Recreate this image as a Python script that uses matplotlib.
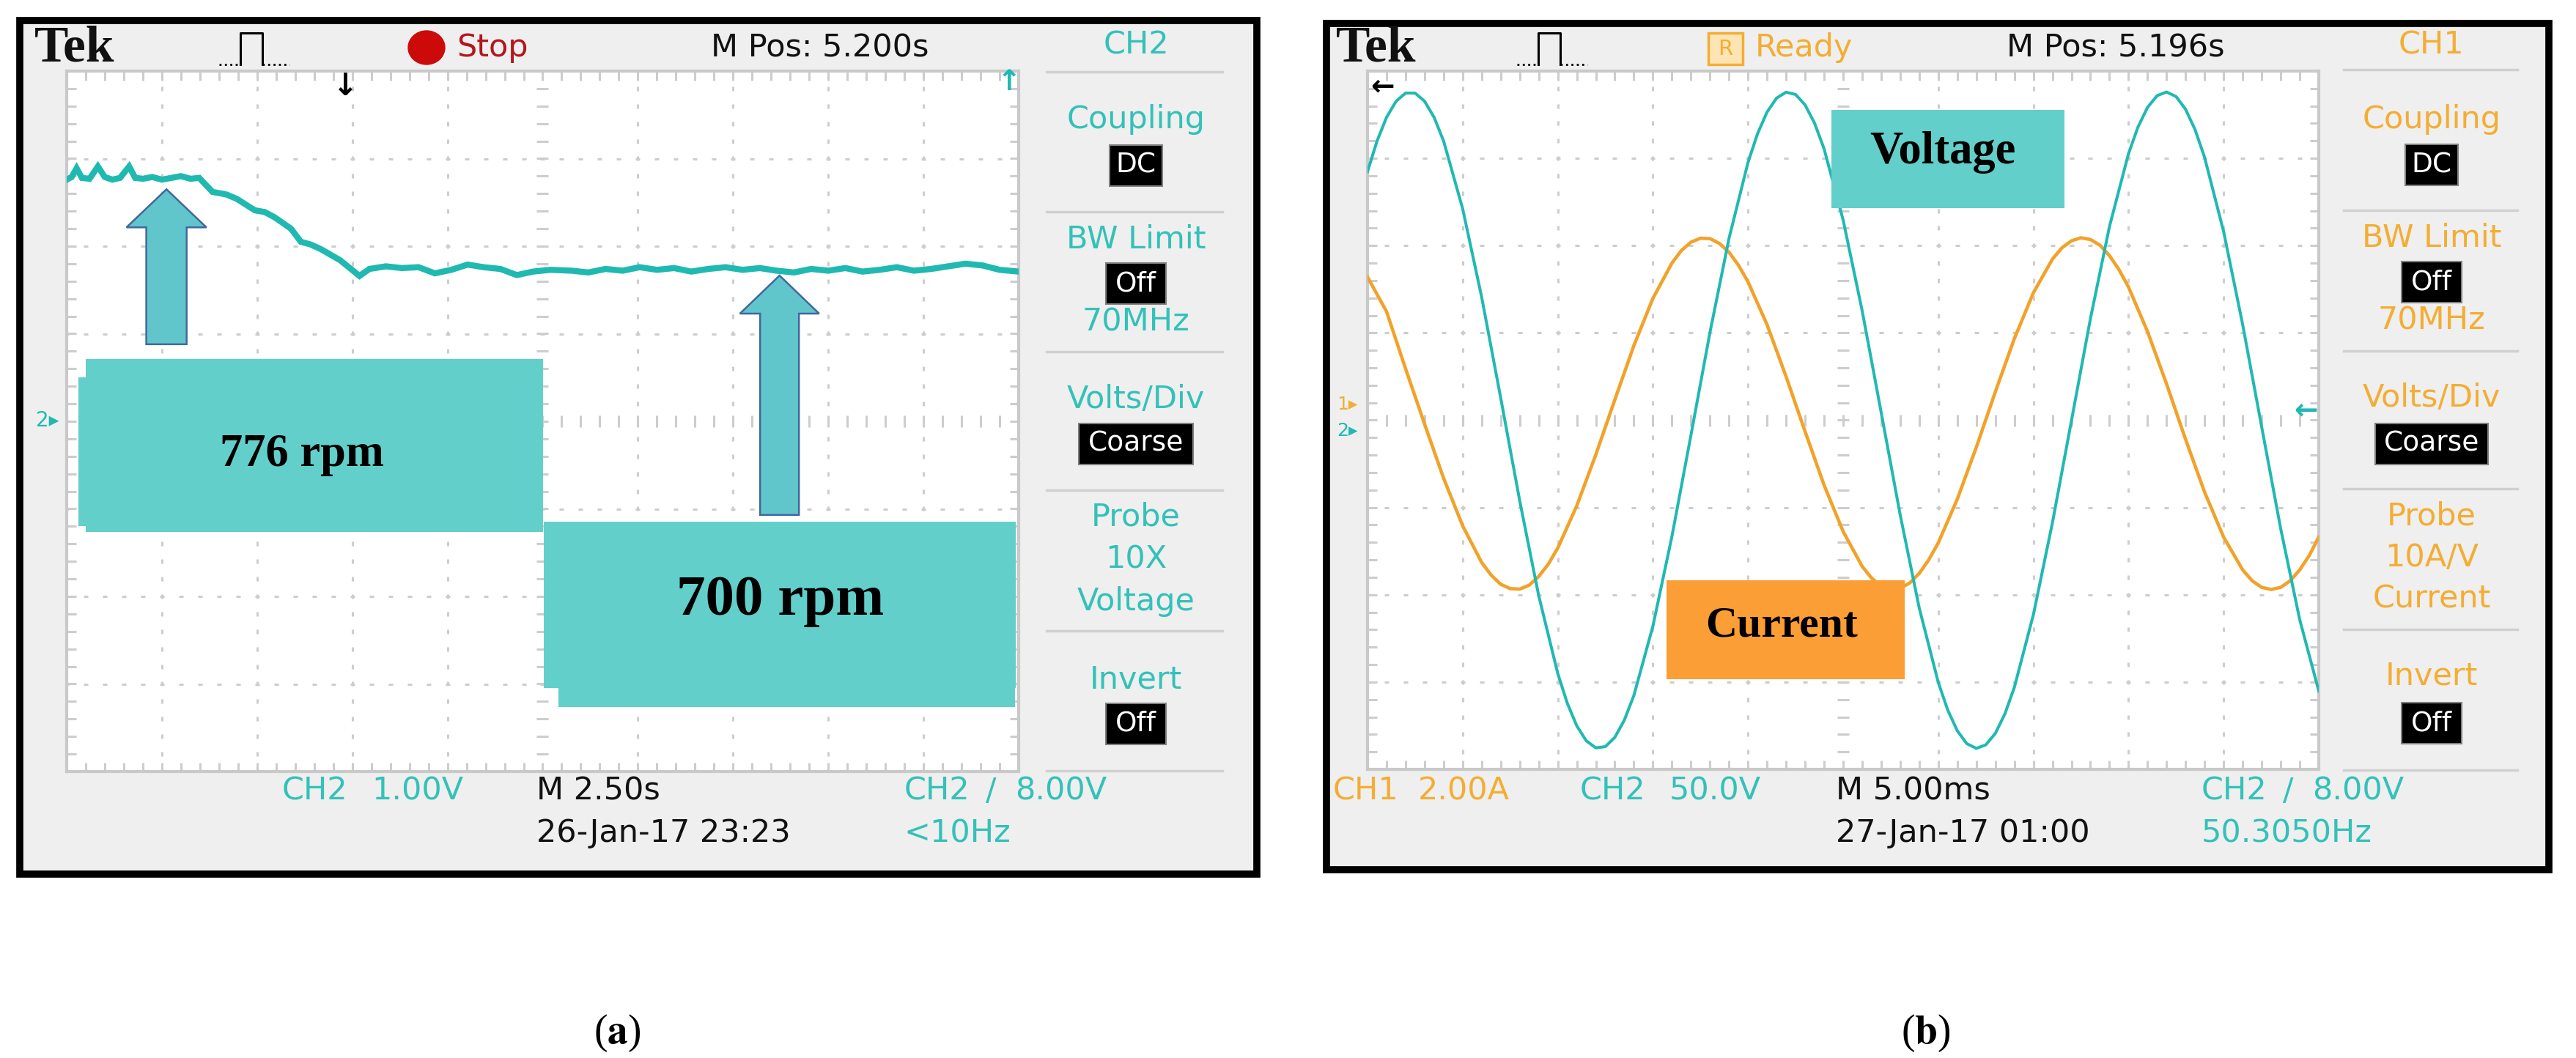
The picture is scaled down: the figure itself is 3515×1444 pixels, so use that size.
import numpy as np
import matplotlib.pyplot as plt
from matplotlib import font_manager
from matplotlib.patches import Rectangle, Ellipse, FancyArrow
from matplotlib.lines import Line2D

plt.rcParams['mathtext.fontset'] = 'stix'

# ---- data read from the two scope screens ----
# (a) speed signal, CH2 1.00 V/div, 2.50 s/div
speed_t = [0.0, 0.13, 0.26, 0.4, 0.6, 0.82, 1.0, 1.2, 1.4, 1.64, 1.8, 2.0, 2.25, 2.5, 2.75,
           3.0, 3.25, 3.48,
           3.83, 4.2, 4.47, 4.94, 5.2, 5.46, 5.89, 6.15, 6.4, 6.66, 7.18, 7.52, 7.69, 7.95,
           8.38, 8.8, 9.24, 9.67, 10.1, 10.53, 10.95, 11.39, 11.82, 12.25, 12.7, 13.26,
           13.7, 14.15, 14.6, 15.05, 15.5, 15.95, 16.4, 16.85, 17.3, 17.75, 18.2, 18.65,
           19.1, 19.55, 20.0, 20.45, 20.9, 21.35, 21.8, 22.25, 22.7, 23.15, 23.6, 24.05,
           24.5, 25.0]
speed_v = [2.76, 2.79, 2.89, 2.78, 2.77, 2.91, 2.79, 2.76, 2.78, 2.91, 2.78, 2.77, 2.79, 2.76, 2.78,
           2.80, 2.77, 2.78,
           2.62, 2.59, 2.54, 2.41, 2.39, 2.33, 2.20, 2.05, 2.02, 1.97, 1.84, 1.72, 1.66, 1.74,
           1.77, 1.75, 1.76, 1.69, 1.73, 1.79, 1.76, 1.74, 1.67, 1.71, 1.73, 1.72,
           1.70, 1.74, 1.72, 1.76, 1.73, 1.75, 1.71, 1.74, 1.76, 1.73, 1.75, 1.72,
           1.70, 1.74, 1.72, 1.75, 1.71, 1.73, 1.76, 1.72, 1.74, 1.77, 1.80, 1.78,
           1.73, 1.71]

# (b) voltage (CH2, 50 V/div) and current (CH1, 2 A/div), 5 ms/div
voltage_t = [0, 0.5, 1, 1.5, 2, 2.5, 3, 3.5, 4, 5, 6, 7, 8, 9,
             10, 10.5, 11, 11.5, 12, 12.5, 13, 13.5, 14, 15, 16, 17, 18, 19,
             20, 20.5, 21, 21.5, 22, 22.5, 23, 23.5, 24, 25, 26, 27, 28, 29,
             30, 30.5, 31, 31.5, 32, 32.5, 33, 33.5, 34, 35, 36, 37, 38, 39,
             40, 40.5, 41, 41.5, 42, 42.5, 43, 43.5, 44, 45, 46, 47, 48, 49, 50]
voltage = [142.4, 159.9, 173.5, 182.7, 187.4, 187.4, 182.7, 173.5, 159.9,
           121.2, 70.5, 12.8, -46.2, -100.6, -145.1,
           -162.1, -175.1, -183.7, -187.7, -187.0, -181.7, -171.8, -157.7,
           -118.0, -66.6, -8.6, 50.3, 104.1, 147.7,
           164.1, 176.5, 184.5, 187.9, 186.6, 180.6, 170.1, 155.4,
           114.7, 62.7, 4.4, -54.3, -107.6, -150.2,
           -166.1, -177.9, -185.3, -188.0, -186.0, -179.4, -168.3, -153.0,
           -111.4, -58.8, -0.3, 58.3, 111.0, 152.7,
           168.0, 179.2, 185.9, 188.0, 185.4, 178.1, 166.4, 150.5,
           108.0, 54.8, -3.9, -62.2, -114.3, -155.1]
current_t = [0, 1, 2, 3, 4, 5, 6, 6.5, 7, 7.5, 8, 8.5, 9, 9.5,
             10, 11, 12, 13, 14, 15, 16, 16.5, 17, 17.5, 18, 18.5, 19, 19.5,
             20, 21, 22, 23, 24, 25, 26, 26.5, 27, 27.5, 28, 28.5, 29, 29.5,
             30, 31, 32, 33, 34, 35, 36, 36.5, 37, 37.5, 38, 38.5, 39, 39.5,
             40, 41, 42, 43, 44, 45, 46, 46.5, 47, 47.5, 48, 48.5, 49, 49.5, 50]
current = [3.28, 2.49, 1.18, -0.09, -1.33, -2.42, -3.26,
           -3.55, -3.76, -3.86, -3.87, -3.78, -3.58, -3.30,
           -2.93, -1.96, -0.79, 0.47, 1.71, 2.79, 3.60,
           3.89, 4.08, 4.17, 4.16, 4.05, 3.85, 3.55,
           3.17, 2.19, 1.00, -0.26, -1.49, -2.55, -3.35,
           -3.62, -3.80, -3.88, -3.85, -3.73, -3.51, -3.20,
           -2.81, -1.81, -0.62, 0.65, 1.87, 2.92, 3.69,
           3.95, 4.11, 4.18, 4.14, 4.01, 3.77, 3.45,
           3.05, 2.03, 0.83, -0.44, -1.65, -2.68, -3.43,
           -3.68, -3.83, -3.88, -3.83, -3.68, -3.43, -3.10, -2.68]

# ---- styling ----
TEAL = '#20b9b2'
TEAL_TXT = '#33c1b9'
ORANGE = '#f2a22a'
ORANGE_TXT = '#f4ad33'
BOX_TEAL = '#63cfca'
BOX_ORANGE = '#fb9e35'
ARROW_FC = '#60c6cc'
ARROW_EC = '#41689c'
SCREEN = '#efefef'
GRIDC = '#cdcdcd'

names = {f.name for f in font_manager.fontManager.ttflist}
if 'Liberation Sans Narrow' in names:
    SANS = ['Liberation Sans Narrow', 'DejaVu Sans']
    FS = 40
else:
    SANS = ['DejaVu Sans']
    FS = 31
SERIF = ['Liberation Serif', 'DejaVu Serif']

W, H = 3516, 1444
fig = plt.figure(figsize=(W / 100, H / 100), dpi=100)


def X(px):
    return px / W


def Y(py):
    return 1 - py / H


def box(x0, y0, x1, y1, **kw):
    fig.add_artist(Rectangle((X(x0), Y(y1)), (x1 - x0) / W, (y1 - y0) / H,
                             transform=fig.transFigure, **kw))


def txt(x, y, s, **kw):
    kw.setdefault('ha', 'center')
    kw.setdefault('va', 'center')
    kw.setdefault('family', SANS)
    kw.setdefault('fontsize', FS)
    fig.text(X(x), Y(y), s, **kw)


def line(xs, ys, **kw):
    fig.add_artist(Line2D([X(v) for v in xs], [Y(v) for v in ys],
                          transform=fig.transFigure, **kw))


def draw_grid(x0, y0, x1, y1, name):
    g = fig.add_axes([X(x0), Y(y1), (x1 - x0) / W, (y1 - y0) / H], label=name)
    g.set_xlim(0, 10)
    g.set_ylim(-4, 4)
    g.set_xticks([])
    g.set_yticks([])
    g.set_facecolor('white')
    for s in g.spines.values():
        s.set_color('#c9c9c9')
        s.set_linewidth(3)
    xs = np.arange(0, 10.001, 0.2)
    ys = np.arange(-4, 4.001, 0.2)
    for k in range(1, 10):
        if k != 5:
            g.plot(np.full(ys.size, k), ys, ls='none', marker='|', ms=5, mew=2.2, color=GRIDC)
    for j in range(-3, 4):
        if j != 0:
            g.plot(xs, np.full(xs.size, j), ls='none', marker='_', ms=5, mew=2.2, color=GRIDC)
    g.plot(xs, np.zeros(xs.size), ls='none', marker='|', ms=11, mew=2.2, color=GRIDC)
    g.plot(np.full(ys.size, 5), ys, ls='none', marker='_', ms=11, mew=2.2, color=GRIDC)
    for yy in (4, -4):
        g.plot(xs, np.full(xs.size, yy), ls='none', marker='|', ms=18, mew=2.2, color=GRIDC)
    for xx in (0, 10):
        g.plot(np.full(ys.size, xx), ys, ls='none', marker='_', ms=18, mew=2.2, color=GRIDC)
    return [X(x0), Y(y1), (x1 - x0) / W, (y1 - y0) / H]


def menu(cx, col, x0, x1, items, seps):
    for y in seps:
        line([x0, x1], [y, y], color='#d0d0d0', lw=2.5)
    for it in items:
        if it[0] == 't':
            txt(cx, it[1], it[2], color=col)
        else:
            w = it[3]
            box(cx - w / 2, it[1] - 28, cx + w / 2, it[1] + 28, facecolor='black',
                edgecolor='#808080', lw=1.5)
            txt(cx, it[1], it[2], color='white', fontsize=FS - 4)


def pulse_icon(x0):
    line([x0, x0 + 29], [88, 88], color='black', lw=2, ls=':')
    line([x0 + 29, x0 + 29, x0 + 59, x0 + 59], [88, 45, 45, 88], color='black', lw=2.2)
    line([x0 + 59, x0 + 96], [88, 88], color='black', lw=2, ls=':')


# ---- screen frames (behind the scope axes) ----
box(27.5, 27.5, 1715, 1192.5, facecolor=SCREEN, edgecolor='black', lw=7, zorder=-2)
box(1810, 32, 3478, 1187, facecolor=SCREEN, edgecolor='black', lw=7, zorder=-2)

# ================= panel (a) =================
rect_a = draw_grid(91, 97, 1390, 1053, 'grid_a')
ax_a = fig.add_axes(rect_a, label='data_a')
ax_a.set_xlim(0, 25)
ax_a.set_ylim(-4, 4)
ax_a.axis('off')
ax_a.plot(speed_t, speed_v, color=TEAL, lw=6, solid_joinstyle='miter')
ax_a.add_patch(FancyArrow(2.62, 0.88, 0, 1.77, width=1.06, head_width=2.10, head_length=0.435,
                          length_includes_head=True, fc=ARROW_FC, ec=ARROW_EC, lw=1.8))
ax_a.add_patch(FancyArrow(18.72, -1.07, 0, 2.735, width=1.02, head_width=2.08, head_length=0.435,
                          length_includes_head=True, fc=ARROW_FC, ec=ARROW_EC, lw=1.8))

txt(102, 67, 'Tek', family=SERIF, fontsize=50, fontweight='bold', color='#111111')
pulse_icon(299)
fig.add_artist(Ellipse((X(582), Y(65)), 50 / W, 46 / H, transform=fig.transFigure,
                       color='#cc0a0a'))
txt(623, 65, 'Stop', ha='left', color='#b3161d')
txt(1119, 65, 'M Pos: 5.200s', color='#111111')
txt(471, 118, '\u2193', family=['DejaVu Sans'], fontsize=30, fontweight='bold', color='black')
txt(1377, 112, '\u2191', family=['DejaVu Sans'], fontsize=28, fontweight='bold', color=TEAL)
txt(65, 574, '2\u25b8', family=['DejaVu Sans'], fontsize=20, color=TEAL)

menu(1550, TEAL_TXT, 1428, 1668,
     [('t', 61, 'CH2'), ('t', 163, 'Coupling'), ('b', 226, 'DC', 72),
      ('t', 327, 'BW Limit'), ('b', 387, 'Off', 82), ('t', 440, '70MHz'),
      ('t', 545, 'Volts/Div'), ('b', 606, 'Coarse', 156),
      ('t', 706, 'Probe'), ('t', 763, '10X'), ('t', 821, 'Voltage'),
      ('t', 927, 'Invert'), ('b', 988, 'Off', 82)],
     [97.5, 289, 480, 669, 861, 1052])

txt(385, 1080, 'CH2', ha='left', color=TEAL_TXT)
txt(507, 1080, '1.00V', ha='left', color=TEAL_TXT)
txt(732, 1080, 'M 2.50s', ha='left', color='#111111')
txt(732, 1137, '26-Jan-17 23:23', ha='left', color='#111111')
txt(1234, 1080, 'CH2', ha='left', color=TEAL_TXT)
txt(1352, 1080, '/', color=TEAL_TXT)
txt(1385, 1080, '8.00V', ha='left', color=TEAL_TXT)
txt(1234, 1137, '<10Hz', ha='left', color=TEAL_TXT)

box(117, 490, 741, 726, facecolor=BOX_TEAL, lw=0)
box(107, 515, 741, 718, facecolor=BOX_TEAL, lw=0)
txt(412, 621, '776 rpm', family=SERIF, fontsize=45, fontweight='bold', color='black')
box(742, 712, 1386, 939, facecolor=BOX_TEAL, lw=0)
box(762, 725, 1385, 965, facecolor=BOX_TEAL, lw=0)
txt(1065, 820, '700 rpm', family=SERIF, fontsize=57, fontweight='bold', color='black')

# ================= panel (b) =================
rect_b = draw_grid(1866, 97, 3164, 1050, 'grid_b')
ax_i = fig.add_axes(rect_b, label='data_i')
ax_i.set_xlim(0, 50)
ax_i.set_ylim(-8, 8)
ax_i.axis('off')
ax_i.plot(current_t, current, color=ORANGE, lw=3.3)
ax_v = fig.add_axes(rect_b, label='data_v')
ax_v.set_xlim(0, 50)
ax_v.set_ylim(-200, 200)
ax_v.axis('off')
ax_v.plot(voltage_t, voltage, color=TEAL, lw=2.9)

txt(1878, 67, 'Tek', family=SERIF, fontsize=50, fontweight='bold', color='#111111')
pulse_icon(2070)
box(2331, 45, 2378, 88, facecolor='#fde4b4', edgecolor=ORANGE_TXT, lw=2.5)
txt(2354.5, 67, 'R', color=ORANGE_TXT, fontsize=FS - 10)
txt(2395, 65, 'Ready', ha='left', color=ORANGE_TXT)
txt(2887, 65, 'M Pos: 5.196s', color='#111111')
txt(1886, 118, '\u2190', family=['DejaVu Sans'], fontsize=28, fontweight='bold', color='black')
txt(3146, 560, '\u2190', family=['DejaVu Sans'], fontsize=28, fontweight='bold', color=TEAL)
txt(1838, 552, '1\u25b8', family=['DejaVu Sans'], fontsize=18, color=ORANGE_TXT)
txt(1838, 588, '2\u25b8', family=['DejaVu Sans'], fontsize=18, color=TEAL)

menu(3318, ORANGE_TXT, 3198, 3435,
     [('t', 61, 'CH1'), ('t', 163, 'Coupling'), ('b', 225, 'DC', 72),
      ('t', 325, 'BW Limit'), ('b', 385, 'Off', 82), ('t', 438, '70MHz'),
      ('t', 543, 'Volts/Div'), ('b', 606, 'Coarse', 154),
      ('t', 705, 'Probe'), ('t', 761, '10A/V'), ('t', 818, 'Current'),
      ('t', 923, 'Invert'), ('b', 987, 'Off', 82)],
     [95, 287, 479, 667, 859, 1051])

txt(1819, 1080, 'CH1', ha='left', color=ORANGE_TXT)
txt(1935, 1080, '2.00A', ha='left', color=ORANGE_TXT)
txt(2156, 1080, 'CH2', ha='left', color=TEAL_TXT)
txt(2278, 1080, '50.0V', ha='left', color=TEAL_TXT)
txt(2505, 1080, 'M 5.00ms', ha='left', color='#111111')
txt(2505, 1137, '27-Jan-17 01:00', ha='left', color='#111111')
txt(3004, 1080, 'CH2', ha='left', color=TEAL_TXT)
txt(3122, 1080, '/', color=TEAL_TXT)
txt(3155, 1080, '8.00V', ha='left', color=TEAL_TXT)
txt(3004, 1137, '50.3050Hz', ha='left', color=TEAL_TXT)

box(2499, 150, 2817, 284, facecolor=BOX_TEAL, lw=0)
txt(2651, 208, 'Voltage', family=SERIF, fontsize=45, fontweight='bold', color='black')
box(2274, 792, 2599, 927, facecolor=BOX_ORANGE, lw=0)
txt(2431, 855, 'Current', family=SERIF, fontsize=43, fontweight='bold', color='black')

# ---- sub-figure labels ----
txt(842, 1410, r'($\mathbf{a}$)', family=SERIF, fontsize=40, color='black')
txt(2628, 1410, r'($\mathbf{b}$)', family=SERIF, fontsize=40, color='black')

fig.savefig('out.png', dpi=100, facecolor='white')
plt.close(fig)
